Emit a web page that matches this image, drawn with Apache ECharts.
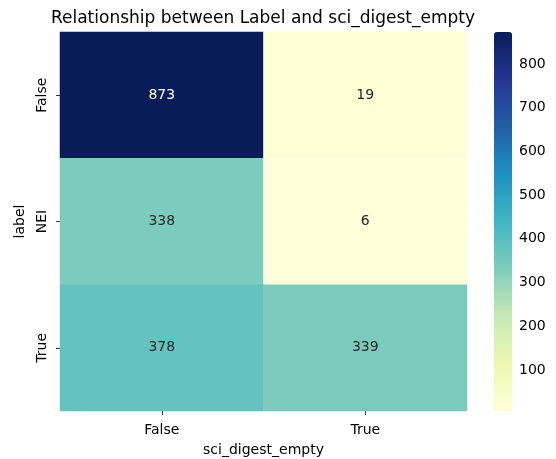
<!DOCTYPE html>
<html><head><meta charset="utf-8">
<script src="https://cdn.jsdelivr.net/npm/echarts@6/dist/echarts.min.js"></script>
<style>html,body{margin:0;padding:0;background:#fff}#c{width:556px;height:459px}</style>
</head><body><div id="c"></div>
<script>
const xCategories = ['False', 'True'];
const yCategories = ['False', 'NEI', 'True'];
const values = [
  [873, 19],
  [338, 6],
  [378, 339]
];
const colorbarTicks = [100, 200, 300, 400, 500, 600, 700, 800];
const ylgnbu = ['#ffffd9', '#edf8b1', '#c7e9b4', '#7fcdbb', '#41b6c4', '#1d91c0', '#225ea8', '#253494', '#081d58'];

const flat = values.flat();
const vmin = Math.min(...flat), vmax = Math.max(...flat);
const data = [];
values.forEach((row, yi) => row.forEach((v, xi) => {
  data.push({ value: [xi, yi, v], label: { color: (v - vmin) / (vmax - vmin) > 0.6 ? '#ffffff' : '#262626' } });
}));

const font = 'DejaVu Sans';
const chart = echarts.init(document.getElementById('c'));
chart.setOption({
  animation: false,
  backgroundColor: '#fff',
  title: {
    text: 'Relationship between Label and sci_digest_empty',
    left: 258, top: 5, textAlign: 'center',
    textStyle: { fontFamily: font, fontSize: 17, fontWeight: 'normal', color: '#000' }
  },
  grid: [
    { left: 60, top: 32, width: 407, height: 379, outerBoundsMode: 'none', containLabel: false },
    { left: 494, top: 32, width: 18, height: 379, outerBoundsMode: 'none', containLabel: false }
  ],
  xAxis: [
    {
      type: 'category', data: xCategories, gridIndex: 0,
      name: 'sci_digest_empty', nameLocation: 'middle', nameGap: 32,
      nameTextStyle: { fontFamily: font, fontSize: 14, color: '#000' },
      axisLine: { show: false },
      axisTick: { show: true, alignWithLabel: true, length: 4, lineStyle: { color: '#000', width: 0.8 } },
      axisLabel: { fontFamily: font, fontSize: 14, color: '#000', margin: 12 },
      splitLine: { show: false }
    },
    { type: 'value', gridIndex: 1, show: false, min: 0, max: 1 }
  ],
  yAxis: [
    {
      type: 'category', data: yCategories, gridIndex: 0, inverse: true,
      name: 'label', nameLocation: 'middle', nameGap: 32, nameRotate: 90,
      nameTextStyle: { fontFamily: font, fontSize: 14, color: '#000' },
      axisLine: { show: false },
      axisTick: { show: true, alignWithLabel: true, length: 4, lineStyle: { color: '#000', width: 0.8 } },
      axisLabel: { fontFamily: font, fontSize: 14, color: '#000', rotate: 90, margin: 11 },
      splitLine: { show: false }
    },
    {
      type: 'value', gridIndex: 1, position: 'right', min: vmin, max: vmax,
      axisLine: { show: false },
      axisTick: { show: true, length: 4, customValues: colorbarTicks, lineStyle: { color: '#000', width: 0.8 } },
      axisLabel: { fontFamily: font, fontSize: 14, color: '#000', margin: 7, customValues: colorbarTicks },
      splitLine: { show: false }
    }
  ],
  visualMap: {
    type: 'continuous', min: vmin, max: vmax, seriesIndex: 0,
    calculable: false, left: 494, top: 32, itemWidth: 18, itemHeight: 379,
    padding: 0, text: null, showLabel: false,
    inRange: { color: ylgnbu }
  },
  series: [
    {
      type: 'heatmap', xAxisIndex: 0, yAxisIndex: 0, data: data,
      label: { show: true, fontFamily: font, fontSize: 14 },
      itemStyle: { borderWidth: 0 },
      emphasis: { disabled: true }
    },
    {
      type: 'line', xAxisIndex: 1, yAxisIndex: 1, data: [], silent: true
    }
  ]
});
</script></body></html>
